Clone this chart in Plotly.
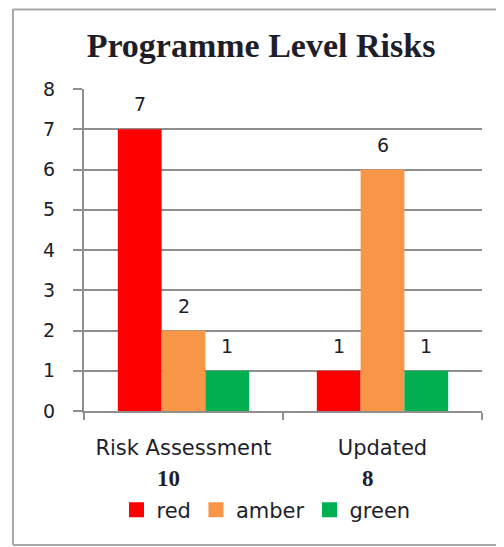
import plotly.graph_objects as go

categories = ["Risk Assessment", "Updated"]
totals = ["10", "8"]
series_names = ["red", "amber", "green"]
red_values = [7, 1]
amber_values = [2, 6]
green_values = [1, 1]
y_ticks = [0, 1, 2, 3, 4, 5, 6, 7, 8]

colors = {"red": "#FF0000", "amber": "#F79646", "green": "#00B050"}
values = {"red": red_values, "amber": amber_values, "green": green_values}

OFF = 8  # page body margin
W, H = 504 - OFF, 547 - OFF
L, R, T, B = 84 - OFF, 22, 89 - OFF, 136
PW, PH = W - L - R, H - T - B
BARGAP = 0.34
TXT = "#1e1e2a"
GRID = "#8f8f8f"


def px_x(x):  # page pixel -> paper
    return (x - OFF - L) / PW


def px_y(y):
    return (H - B - (y - OFF)) / PH


fig = go.Figure()
for name in series_names:
    fig.add_trace(go.Bar(
        x=categories, y=values[name], name=name, showlegend=False,
        marker=dict(color=colors[name], line=dict(width=0)),
    ))
# legend entries with larger square swatches
for name in series_names:
    fig.add_trace(go.Scatter(
        x=[None], y=[None], mode="markers", name=name,
        marker=dict(symbol="square", size=15, color=colors[name]),
    ))

# value labels above bars
bar_w = PW / len(categories) * (1 - BARGAP) / len(series_names)
annotations = []
for i, name in enumerate(series_names):
    for cat, v in zip(categories, values[name]):
        annotations.append(dict(
            x=cat, y=v, xref="x", yref="y", text=str(v), showarrow=False,
            xshift=(i - 1) * bar_w, yshift=25,
            font=dict(family="DejaVu Sans", size=19, color=TXT),
        ))
# totals under category labels
for cat, t in zip(categories, totals):
    annotations.append(dict(
        x=cat, y=px_y(478), xref="x", yref="paper", text="<b>" + t + "</b>",
        showarrow=False, xshift=-15, yanchor="middle",
        font=dict(family="Liberation Serif", size=23, color=TXT),
    ))

shapes = []
frame = "#a8a8a8"
shapes.append(dict(type="line", xref="paper", yref="paper", x0=px_x(13), x1=px_x(13),
                   y0=px_y(9), y1=px_y(545), line=dict(color=frame, width=2)))
shapes.append(dict(type="line", xref="paper", yref="paper", x0=px_x(13), x1=px_x(510),
                   y0=px_y(9.5), y1=px_y(9.5), line=dict(color=frame, width=2)))
shapes.append(dict(type="line", xref="paper", yref="paper", x0=px_x(13), x1=px_x(510),
                   y0=px_y(545), y1=px_y(545), line=dict(color=frame, width=2)))

fig.update_layout(
    width=W, height=H,
    margin=dict(l=L, r=R, t=T, b=B, autoexpand=False),
    paper_bgcolor="white", plot_bgcolor="white",
    barmode="group", bargap=BARGAP, bargroupgap=0,
    title=dict(text="<b>Programme Level Risks</b>", x=(261 - OFF) / W, xanchor="center",
               y=1 - (45 - OFF) / H, yanchor="middle", yref="container",
               font=dict(family="Liberation Serif", size=34, color=TXT)),
    font=dict(family="DejaVu Sans", color=TXT),
    xaxis=dict(showline=True, linecolor=GRID, linewidth=2, ticks="outside",
               tickson="boundaries", ticklen=7, tickcolor=GRID, tickwidth=2,
               tickfont=dict(family="DejaVu Sans", size=21, color=TXT),
               ticklabelstandoff=17, showgrid=False),
    yaxis=dict(range=[0, 8], tickvals=y_ticks, showline=True, linecolor=GRID, linewidth=2,
               ticks="outside", ticklen=9, tickcolor=GRID, tickwidth=2,
               showgrid=True, gridcolor=GRID, gridwidth=2, zeroline=False,
               tickfont=dict(family="DejaVu Sans", size=19, color=TXT),
               ticklabelstandoff=14),
    legend=dict(orientation="h", x=px_x(266), xref="paper", xanchor="center",
                y=px_y(510), yanchor="middle",
                font=dict(family="DejaVu Sans", size=21, color=TXT),
                itemwidth=30, itemsizing="trace"),
    showlegend=True,
    annotations=annotations,
    shapes=shapes,
)

fig.write_html("out.html")
